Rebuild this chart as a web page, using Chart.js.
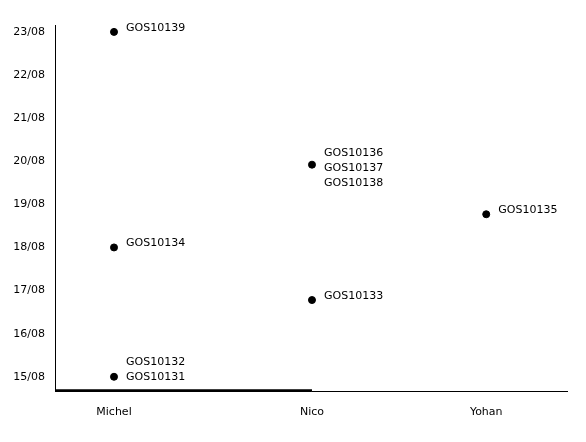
<!DOCTYPE html>
<html><head><meta charset="utf-8">
<script src="https://cdn.jsdelivr.net/npm/chart.js@4"></script>
<style>html,body{margin:0;padding:0;background:#fff}#wrap{width:586px;height:442px}</style>
</head>
<body><div id="wrap"><canvas id="c"></canvas></div>
<script>
const people = ["Michel", "Nico", "Yohan"];
const personX = [0, 1, 1.88];
const pointPerson = ["Michel", "Michel", "Michel", "Nico", "Nico", "Yohan"];
const pointDay = [23.0, 18.0, 15.0, 19.92, 16.78, 18.77];
const pointLabels = [["GOS10139"], ["GOS10134"], ["GOS10132", "GOS10131"], ["GOS10136", "GOS10137", "GOS10138"], ["GOS10133"], ["GOS10135"]];
const yTicks = [15, 16, 17, 18, 19, 20, 21, 22, 23];
const monthLabel = "08";

const FONT = "'DejaVu Sans', sans-serif";

const data = pointDay.map((d, i) => ({ x: personX[people.indexOf(pointPerson[i])], y: d, labels: pointLabels[i] }));

const labelPlugin = {
  id: 'labelPlugin',
  afterDatasetsDraw(chart) {
    const ctx = chart.ctx;
    const meta = chart.getDatasetMeta(0);
    ctx.save();
    ctx.font = "11px " + FONT;
    ctx.fillStyle = "#000";
    ctx.textAlign = "left";
    ctx.textBaseline = "middle";
    meta.data.forEach((el, i) => {
      const lines = data[i].labels;
      const n = lines.length;
      const mid = Math.floor(n / 2);
      const off = n === 1 ? -4 : (n - 2) * 3;
      lines.forEach((t, j) => {
        const y = el.y + (j - mid) * 15 + off;
        ctx.fillText(t, el.x + 12, y);
      });
    });
    const xs = chart.scales.x, ys = chart.scales.y;
    ctx.strokeStyle = "#000";
    ctx.lineWidth = 2.5;
    ctx.beginPath();
    ctx.moveTo(chart.chartArea.left, ys.bottom - 0.5);
    ctx.lineTo(xs.getPixelForValue(personX[1]), ys.bottom - 0.5);
    ctx.stroke();
    ctx.restore();
  }
};

new Chart(document.getElementById('c'), {
  type: 'scatter',
  data: {
    datasets: [{
      data: data,
      backgroundColor: '#000',
      borderColor: '#000',
      pointRadius: 3.5,
      pointHoverRadius: 3.5
    }]
  },
  options: {
    responsive: true,
    maintainAspectRatio: false,
    animation: false,
    layout: { padding: { top: 25, right: 19, left: 0, bottom: 0 } },
    plugins: { legend: { display: false }, tooltip: { enabled: false } },
    scales: {
      x: {
        type: 'linear',
        min: -0.298,
        max: 2.288,
        grid: { display: false },
        border: { display: true, color: '#000', width: 1 },
        afterBuildTicks(scale) { scale.ticks = personX.map(v => ({ value: v })); },
        afterFit(scale) { scale.height = 51; },
        ticks: {
          autoSkip: false,
          maxRotation: 0,
          padding: 7,
          color: '#000',
          font: { family: FONT, size: 11 },
          callback(v) { const i = personX.indexOf(v); return i >= 0 ? people[i] : ''; }
        }
      },
      y: {
        type: 'linear',
        min: 14.67,
        max: 23.16,
        grid: { display: false },
        border: { display: true, color: '#000', width: 1 },
        afterBuildTicks(scale) { scale.ticks = yTicks.map(v => ({ value: v })); },
        afterFit(scale) { scale.width = 55; },
        ticks: {
          autoSkip: false,
          padding: 2,
          color: '#000',
          font: { family: FONT, size: 11 },
          callback(v) { return String(v).padStart(2, '0') + '/' + monthLabel; }
        }
      }
    }
  },
  plugins: [labelPlugin]
});
</script>
</body></html>
